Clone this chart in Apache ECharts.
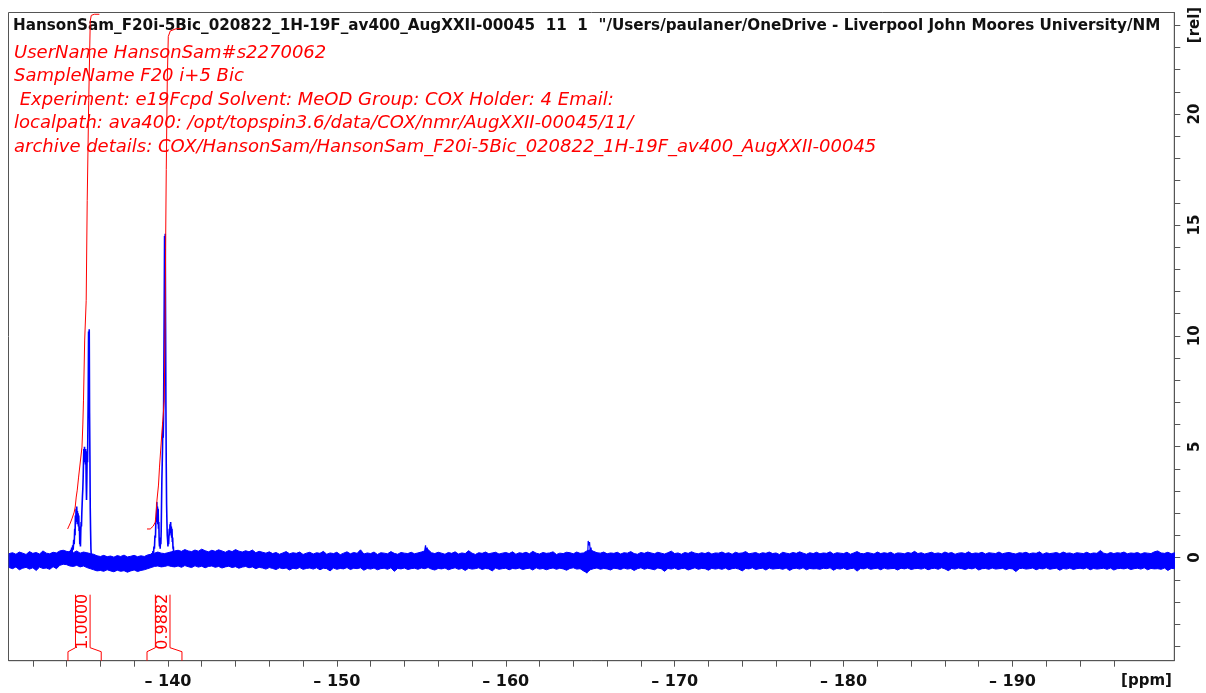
<!DOCTYPE html>
<html><head><meta charset="utf-8">
<script src="https://cdn.jsdelivr.net/npm/echarts@6/dist/echarts.min.js"></script>
<style>html,body{margin:0;padding:0;background:#fff}#c{width:1206px;height:693px}</style>
</head><body><div id="c"></div>
<script>
// ---------- texts ----------
const titleText = 'HansonSam_F20i-5Bic_020822_1H-19F_av400_AugXXII-00045  11  1  "/Users/paulaner/OneDrive - Liverpool John Moores University/NMR';
const infoLines = [
  'UserName HansonSam#s2270062',
  'SampleName F20 i+5 Bic',
  ' Experiment: e19Fcpd Solvent: MeOD Group: COX Holder: 4 Email:',
  'localpath: ava400: /opt/topspin3.6/data/COX/nmr/AugXXII-00045/11/',
  'archive details: COX/HansonSam/HansonSam_F20i-5Bic_020822_1H-19F_av400_AugXXII-00045'
];
// ---------- axes ----------
const xMin = -199.58, xMax = -130.56;
const yMin = -4.65, yMax = 24.58;
const xTickValues = [-132,-134,-136,-138,-140,-142,-144,-146,-148,-150,-152,-154,-156,-158,-160,-162,-164,-166,-168,-170,-172,-174,-176,-178,-180,-182,-184,-186,-188,-190,-192,-194,-196];
const xLabelValues = [-140,-150,-160,-170,-180,-190];
const yTickValues = [-4,-3,-2,-1,0,1,2,3,4,5,6,7,8,9,10,11,12,13,14,15,16,17,18,19,20,21,22,23,24];
const yLabelValues = [0,5,10,15,20];
// ---------- baseline noise envelope (max / min intensity per 0.2 ppm bin) ----------
const noiseStartPpm = -130.6, noiseStepPpm = -0.2;
const noiseHigh = [
.18,.22,.15,.25,.2,.14,.27,.19,.23,.16,.3,.2,.17,.24,.21,.3,.33,.28,.25,.22,.3,.2,.25,.22,.18,.15,.08,.05,.1,.04,
.07,.02,.09,.05,.11,.03,.06,.1,.04,.08,.05,.12,.15,.2,.25,.2,.18,.22,.26,.3,.33,.28,.36,.3,.27,.34,.29,.38,.31,.26,
.33,.28,.35,.3,.24,.32,.27,.36,.29,.25,.31,.26,.34,.22,.28,.24,.2,.26,.18,.23,.15,.21,.27,.17,.22,.19,.25,.14,.2,.24,
.16,.22,.19,.28,.15,.21,.18,.24,.13,.2,.26,.17,.23,.19,.35,.16,.21,.18,.25,.14,.22,.2,.17,.27,.19,.15,.23,.2,.18,.24,
.17,.21,.25,.3,.36,.22,.18,.24,.2,.15,.23,.19,.26,.16,.21,.18,.31,.2,.14,.22,.19,.25,.17,.21,.24,.16,.2,.23,.18,.26,
.15,.22,.19,.24,.17,.28,.2,.16,.23,.19,.21,.26,.14,.2,.18,.24,.22,.17,.25,.19,.21,.3,.35,.28,.22,.2,.25,.17,.21,.19,
.24,.16,.22,.2,.27,.18,.15,.23,.19,.25,.21,.17,.24,.2,.16,.22,.29,.18,.21,.15,.23,.19,.26,.2,.17,.22,.18,.24,.16,.21,
.2,.25,.18,.22,.15,.24,.19,.21,.27,.17,.2,.23,.16,.22,.19,.25,.18,.21,.14,.24,.2,.17,.23,.19,.26,.2,.15,.22,.18,.24,
.17,.21,.19,.26,.16,.22,.2,.18,.24,.15,.21,.27,.19,.17,.23,.2,.16,.25,.18,.22,.19,.24,.15,.21,.2,.17,.23,.19,.28,.18,
.22,.16,.2,.24,.18,.21,.17,.25,.19,.23,.15,.2,.22,.18,.26,.17,.21,.19,.24,.16,.22,.2,.18,.25,.17,.21,.23,.19,.16,.22,
.2,.24,.17,.21,.19,.26,.15,.22,.18,.2,.23,.17,.25,.19,.21,.16,.22,.2,.18,.24,.17,.21,.19,.32,.2,.16,.23,.18,.22,.2,
.25,.17,.21,.19,.23,.16,.22,.2,.18,.26,.3,.21,.19,.24,.17,.22,.2,.18,.23,.19,.21,.17,.24,.2,.18,.22,.19,.21,.2,.18
];
const noiseLow = [
-.45,-.5,-.42,-.55,-.48,-.44,-.52,-.46,-.58,-.43,-.49,-.47,-.53,-.41,-.5,-.35,-.3,-.32,-.38,-.4,-.35,-.42,-.38,-.45,-.5,-.55,-.6,-.58,-.62,-.55,
-.6,-.64,-.57,-.62,-.59,-.66,-.6,-.56,-.63,-.58,-.55,-.5,-.45,-.4,-.38,-.42,-.4,-.36,-.4,-.42,-.38,-.44,-.36,-.41,-.45,-.37,-.43,-.39,-.46,-.4,
-.38,-.44,-.4,-.47,-.42,-.39,-.45,-.41,-.48,-.43,-.4,-.46,-.42,-.5,-.44,-.47,-.52,-.45,-.49,-.54,-.46,-.5,-.47,-.56,-.48,-.51,-.45,-.53,-.49,-.47,
-.52,-.46,-.55,-.48,-.5,-.6,-.47,-.53,-.49,-.51,-.45,-.54,-.48,-.5,-.46,-.57,-.49,-.52,-.47,-.55,-.5,-.48,-.53,-.46,-.62,-.49,-.51,-.47,-.54,-.5,
-.48,-.53,-.47,-.5,-.45,-.52,-.56,-.49,-.51,-.47,-.55,-.5,-.46,-.53,-.49,-.58,-.48,-.52,-.5,-.46,-.54,-.49,-.51,-.6,-.47,-.53,-.5,-.48,-.55,-.49,
-.51,-.47,-.54,-.5,-.48,-.56,-.46,-.52,-.49,-.55,-.5,-.47,-.53,-.48,-.51,-.57,-.49,-.46,-.52,-.5,-.6,-.68,-.55,-.5,-.47,-.53,-.49,-.51,-.56,-.48,
-.5,-.54,-.47,-.52,-.49,-.58,-.5,-.46,-.53,-.48,-.51,-.55,-.47,-.5,-.62,-.49,-.52,-.47,-.54,-.5,-.48,-.56,-.51,-.46,-.53,-.49,-.5,-.57,-.48,-.52,
-.49,-.53,-.47,-.55,-.5,-.48,-.52,-.6,-.49,-.51,-.46,-.54,-.5,-.48,-.56,-.47,-.52,-.5,-.49,-.53,-.47,-.58,-.5,-.48,-.52,-.46,-.55,-.49,-.51,-.5,
-.53,-.48,-.5,-.46,-.57,-.49,-.52,-.47,-.54,-.5,-.48,-.61,-.49,-.51,-.46,-.53,-.5,-.48,-.55,-.47,-.52,-.5,-.49,-.56,-.48,-.51,-.47,-.54,-.5,-.49,
-.52,-.47,-.55,-.5,-.48,-.53,-.46,-.51,-.59,-.49,-.52,-.47,-.5,-.54,-.48,-.51,-.46,-.56,-.5,-.49,-.53,-.47,-.52,-.5,-.48,-.55,-.49,-.51,-.63,-.5,
-.48,-.52,-.5,-.47,-.55,-.49,-.51,-.46,-.53,-.5,-.48,-.57,-.49,-.52,-.47,-.54,-.5,-.48,-.51,-.46,-.55,-.49,-.52,-.5,-.48,-.53,-.47,-.56,-.5,-.49,
-.51,-.47,-.54,-.5,-.48,-.52,-.46,-.55,-.49,-.51,-.5,-.53,-.47,-.58,-.49,-.5,-.52,-.48,-.54,-.47,-.5,-.53,-.49,-.51,-.48,-.55,-.5,-.47,-.52,-.5
];
// ---------- resolved signals [ppm, intensity] ----------
const peak1 = [
[-134.00,.05],[-134.03,-.25],[-134.06,.15],[-134.09,-.2],[-134.12,.25],[-134.15,-.1],[-134.18,.3],[-134.21,.0],[-134.24,.35],[-134.27,.1],
[-134.30,.45],[-134.33,.2],[-134.36,.55],[-134.39,.35],[-134.42,.8],[-134.45,.6],[-134.48,1.3],[-134.50,1.0],[-134.52,1.9],[-134.54,1.5],
[-134.56,2.2],[-134.58,1.6],[-134.60,2.3],[-134.62,1.7],[-134.64,2.1],[-134.66,1.5],[-134.68,2.0],[-134.70,1.4],[-134.72,1.9],[-134.74,1.2],
[-134.76,1.4],[-134.78,.6],[-134.80,.9],[-134.82,.5],[-134.84,1.2],[-134.86,1.6],[-134.88,1.4],[-134.90,2.0],[-134.92,2.4],[-134.94,2.8],
[-134.96,3.1],[-134.98,3.6],[-135.00,4.3],[-135.02,4.9],[-135.04,4.4],[-135.06,5.0],[-135.08,4.3],[-135.10,4.9],[-135.12,4.2],[-135.14,4.8],
[-135.16,3.4],[-135.18,2.6],[-135.20,3.6],[-135.22,4.9],[-135.24,4.3],[-135.26,5.8],[-135.28,7.4],[-135.30,10.2],[-135.32,9.6],[-135.34,10.3],
[-135.36,6.5],[-135.38,4.6],[-135.40,2.2],[-135.42,1.2],[-135.44,.4],[-135.46,.1],[-135.48,-.2],[-135.50,-.3],[-135.52,-.1],[-135.55,-.4],
[-135.58,-.05],[-135.61,-.35],[-135.64,.0],[-135.67,-.3],[-135.70,-.1]
];
const peak2 = [
[-138.90,-.2],[-138.93,.15],[-138.96,-.3],[-138.99,.1],[-139.02,-.25],[-139.05,.2],[-139.08,-.1],[-139.11,.3],[-139.14,.1],[-139.17,.5],
[-139.20,.4],[-139.23,1.0],[-139.26,.9],[-139.29,1.8],[-139.32,1.6],[-139.34,2.5],[-139.36,1.9],[-139.38,2.3],[-139.40,1.5],[-139.42,2.2],
[-139.44,1.3],[-139.46,1.6],[-139.48,.8],[-139.50,.5],[-139.52,.9],[-139.54,.4],[-139.56,.8],[-139.58,.6],[-139.60,1.2],[-139.62,2.4],
[-139.64,3.5],[-139.66,4.2],[-139.68,5.0],[-139.70,6.1],[-139.72,5.4],[-139.74,6.3],[-139.76,8.8],[-139.78,11.5],[-139.80,14.5],[-139.82,13.8],
[-139.84,14.6],[-139.86,10.6],[-139.88,6.8],[-139.90,4.1],[-139.92,2.4],[-139.94,1.6],[-139.96,1.0],[-139.98,.8],[-140.00,.5],[-140.02,.9],
[-140.04,.6],[-140.06,1.0],[-140.08,1.3],[-140.10,1.0],[-140.12,1.5],[-140.14,1.2],[-140.16,1.6],[-140.18,1.1],[-140.20,1.4],[-140.22,.9],
[-140.24,1.3],[-140.26,.7],[-140.28,.9],[-140.30,.4],[-140.32,.5],[-140.34,.1],[-140.37,.25],[-140.40,-.2],[-140.43,.2],[-140.46,-.3],[-140.50,.15]
];
const bump1 = [[-155.15,-.1],[-155.2,.3],[-155.25,.55],[-155.3,.2],[-155.35,.45],[-155.4,-.05],[-155.45,.2]];
const bump2 = [[-164.7,-.2],[-164.75,-.5],[-164.8,-.7],[-164.85,.1],[-164.88,.75],[-164.92,.55],[-164.96,.7],[-165.0,.3],[-165.05,.45],[-165.1,.05],[-165.15,.3]];
// ---------- integrals ----------
const integral1 = [
[-134.06,1.29],[-134.22,1.56],[-134.33,1.78],[-134.45,2.05],[-134.51,2.28],[-134.57,2.73],[-134.63,3.04],[-134.71,3.63],[-134.81,4.31],
[-134.91,4.98],[-134.96,5.98],[-135.00,7.1],[-135.07,9.81],[-135.16,11.6],[-135.22,16.1],[-135.31,20.6],[-135.40,24.2],[-135.46,24.45],
[-135.64,24.5],[-135.94,24.5]
];
const integral2 = [
[-138.76,1.29],[-138.95,1.29],[-139.13,1.42],[-139.25,1.6],[-139.31,2.14],[-139.35,2.59],[-139.44,3.27],[-139.50,4.08],[-139.57,4.85],
[-139.64,5.62],[-139.72,6.43],[-139.78,7.1],[-139.83,10.3],[-139.86,13.9],[-139.90,17.5],[-139.96,21.5],[-140.02,23.5],[-140.14,23.75],
[-140.49,23.85],[-140.79,23.85]
];
const integralRanges = [[-134.08,-136.05],[-138.76,-140.83]];
const integralLabels = ['1.0000','0.9882'];

// ---------- build noise band ----------
const bandHigh = [], bandLow = [];
noiseHigh.forEach((v,i) => {
  const x = +(noiseStartPpm + i*noiseStepPpm).toFixed(3);
  if (x >= xMin - 0.2 && x <= xMax + 0.2 && i < noiseLow.length) {
    bandHigh.push([x, v]);
    bandLow.push([x, noiseLow[i]]);
  }
});

const FONT = '"DejaVu Sans", "Liberation Sans", sans-serif';
const BLUE = '#0000ff', RED = '#ff0000';
const lineSeries = (data, color, w, z) => ({type:'line', data, showSymbol:false, symbol:'none', clip:true, lineStyle:{color, width:w}, z});

const chart = echarts.init(document.getElementById('c'), null, {renderer:'canvas'});
chart.setOption({
  animation:false,
  backgroundColor:'#ffffff',
  grid:{left:8.5, right:31.7, top:12.5, bottom:32.3, show:true, borderColor:'#555', borderWidth:1, backgroundColor:'transparent', containLabel:false, outerBoundsMode:'none'},
  xAxis:{
    type:'value', inverse:true, min:xMin, max:xMax,
    axisLine:{show:true, onZero:false, lineStyle:{color:'#555', width:1}},
    axisTick:{show:true, length:6, customValues:xTickValues, lineStyle:{color:'#555'}},
    axisLabel:{show:true, customValues:xLabelValues, margin:13, color:'#111', fontWeight:'bold', fontSize:16, fontFamily:FONT,
      formatter: v => '\u2013 ' + Math.abs(v)},
    splitLine:{show:false}
  },
  yAxis:{
    type:'value', position:'right', min:yMin, max:yMax,
    axisLine:{show:true, onZero:false, lineStyle:{color:'#555', width:1}},
    axisTick:{show:true, length:6, customValues:yTickValues, lineStyle:{color:'#555'}},
    axisLabel:{show:true, customValues:yLabelValues, rotate:90, margin:13, color:'#111', fontWeight:'bold', fontSize:15, fontFamily:FONT},
    splitLine:{show:false}
  },
  graphic:[
    {type:'text', x:13, y:26, z:1, style:{text:titleText, font:'bold 15.2px ' + FONT, fill:'#111', verticalAlign:'middle', width:1160, overflow:'truncate', ellipsis:''}},
    ...infoLines.map((t,i) => ({type:'text', x:14, y:53 + i*23.5, z:1, style:{text:t, font:'italic 18px ' + FONT, fill:RED, verticalAlign:'middle'}})),
    {type:'text', x:1146.5, y:681, style:{text:'[ppm]', font:'bold 15px ' + FONT, fill:'#111', align:'center', verticalAlign:'middle'}},
    {type:'text', x:1195, y:25, rotation:Math.PI/2, style:{text:'[rel]', font:'bold 15px ' + FONT, fill:'#111', align:'center', verticalAlign:'middle'}}
  ],
  series:[
    {type:'custom', z:2, clip:true, data:[[bandHigh[0][0], 0]], encode:{x:0, y:1},
      renderItem:(params, api) => {
        const pts = bandHigh.map(p => api.coord(p)).concat(bandLow.slice().reverse().map(p => api.coord(p)));
        return {type:'polygon', shape:{points:pts}, style:{fill:BLUE, stroke:BLUE, lineWidth:1}};
      }
    },
    lineSeries(peak1, BLUE, 1.6, 3),
    lineSeries(peak2, BLUE, 1.6, 3),
    lineSeries(bump1, BLUE, 1.2, 3),
    lineSeries(bump2, BLUE, 1.2, 3),
    lineSeries(integral1, RED, 1, 4),
    lineSeries(integral2, RED, 1, 4),
    {type:'custom', z:4, clip:false,
      data: integralRanges.map(r => [r[0], r[1], 0]),
      encode:{x:[0,1], y:2},
      renderItem:(params, api) => {
        const xa = api.coord([api.value(0), 0])[0];
        const xb = api.coord([api.value(1), 0])[0];
        const cs = params.coordSys;
        const bottom = cs.y + cs.height;
        const left = Math.min(xa,xb), right = Math.max(xa,xb);
        const xc = (left + right)/2 - 1.8;
        const hw = 7.3;
        const st = {stroke:RED, fill:null, lineWidth:1};
        return {type:'group', children:[
          {type:'polyline', shape:{points:[[left,bottom],[left,bottom-9],[xc-hw,bottom-13],[xc-hw,bottom-66]]}, style:st},
          {type:'polyline', shape:{points:[[right,bottom],[right,bottom-9],[xc+hw,bottom-13],[xc+hw,bottom-66]]}, style:st},
          {type:'text', x:xc, y:bottom-39, rotation:Math.PI/2,
            style:{text:integralLabels[params.dataIndex], fill:RED, font:'16px ' + FONT, align:'center', verticalAlign:'middle'}}
        ]};
      }
    }
  ]
});
</script>
</body></html>
